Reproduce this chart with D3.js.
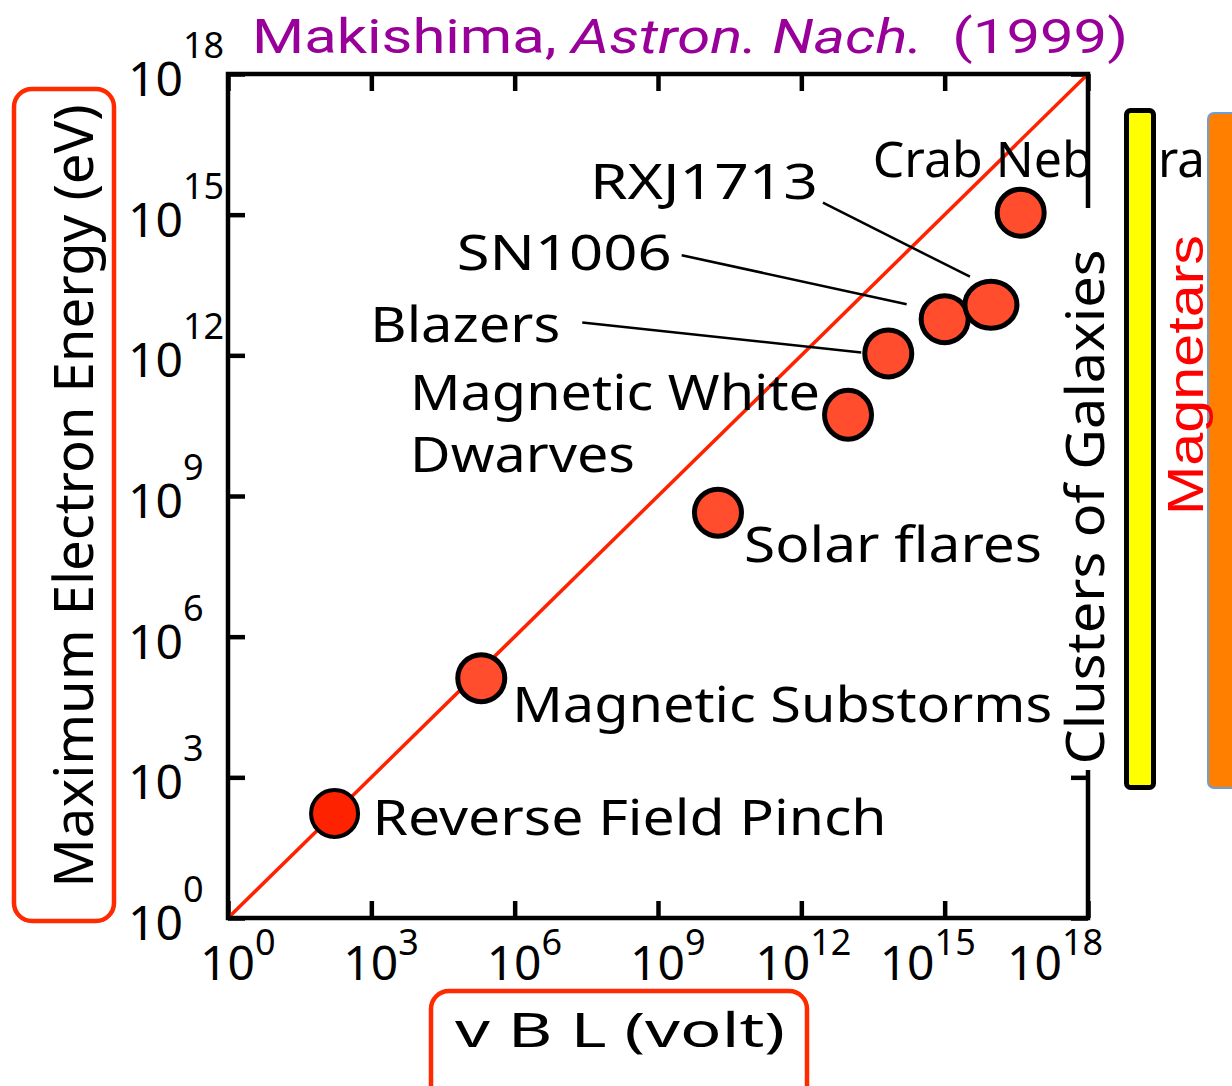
<!DOCTYPE html>
<html>
<head>
<meta charset="utf-8">
<script src="https://cdn.jsdelivr.net/npm/d3@7"></script>
<style>
  body { margin: 0; background: #fff; }
  svg { display: block; }
  text { font-family: "Noto Sans", "DejaVu Sans", sans-serif; }
</style>
</head>
<body>
<div id="chart"></div>
<script>
// sources and their (vBL, max electron energy)
const sources = ["Reverse Field Pinch", "Magnetic Substorms", "Solar flares", "Magnetic White Dwarves",
                 "Blazers", "SN1006", "RXJ1713", "Crab Nebura"];
const vBL  = [1.7e2, 2.0e5, 1.8e10, 9.5e12, 6.6e13, 1.0e15, 9.3e15, 3.9e16];
const eMax = [1.7e2, 1.3e5, 4.4e8, 5.4e10, 1.1e12, 5.9e12, 1.2e13, 1.1e15];
const tickExponents = [0, 3, 6, 9, 12, 15, 18];

const width = 1232, height = 1086;
const margin = {left: 228, right: 1088, top: 74, bottom: 918};

const svg = d3.select("#chart").append("svg")
    .attr("width", width)
    .attr("height", height);

var x = d3.scaleLog().domain([1, 1e18]).range([margin.left, margin.right]);
var y = d3.scaleLog().domain([1, 1e18]).range([margin.bottom, margin.top]);
var tickVals = tickExponents.map(function(e) { return Math.pow(10, e); });

// title
svg.append("text")
    .attr("x", 252).attr("y", 53)
    .attr("font-size", 48)
    .attr("fill", "#990099")
    .style("font-family", "Roboto, 'Noto Sans', sans-serif")
    .attr("textLength", 876)
    .attr("lengthAdjust", "spacingAndGlyphs")
    .call(t => {
        t.append("tspan").text("Makishima, ");
        t.append("tspan").attr("font-style", "italic").text("Astron. Nach.");
        t.append("tspan").text("\u00a0\u00a0(1999)");
    });

// inward ticks on all four sides
function tickAxis(axis, tx, ty) {
    svg.append("g")
        .attr("transform", "translate(" + tx + "," + ty + ")")
        .call(axis.tickValues(tickVals).tickSize(-17).tickSizeOuter(0).tickFormat(""))
        .call(g => g.select(".domain").remove())
        .selectAll("line").attr("stroke", "#000").attr("stroke-width", 4.5);
}
tickAxis(d3.axisBottom(x), 0, margin.bottom);
tickAxis(d3.axisTop(x), 0, margin.top);
tickAxis(d3.axisLeft(y), margin.left, 0);
tickAxis(d3.axisRight(y), margin.right, 0);

// diagonal E = vBL
svg.append("line")
    .attr("x1", x(1)).attr("y1", y(1))
    .attr("x2", x(1e18)).attr("y2", y(1e18))
    .attr("stroke", "#ff2200")
    .attr("stroke-width", 3.5);

// y tick labels
svg.append("g").selectAll("text")
    .data(tickExponents)
    .enter().append("text")
    .attr("x", 128)
    .attr("y", d => y(Math.pow(10, d)) + 22)
    .attr("fill", "#000")
    .each(function(d) {
        var t = d3.select(this);
        t.append("tspan").attr("font-size", 48).text("10");
        t.append("tspan").attr("font-size", 36).attr("dy", -38).text(d);
    });

// x tick labels (the wider ones were nudged left in the original)
var xNudge = {12: -18, 15: -37, 18: -53};
svg.append("g").selectAll("text")
    .data(tickExponents)
    .enter().append("text")
    .attr("x", d => x(Math.pow(10, d)) - 28 + (xNudge[d] || 0))
    .attr("y", 980)
    .attr("fill", "#000")
    .each(function(d) {
        var t = d3.select(this);
        t.append("tspan").attr("font-size", 48).text("10");
        t.append("tspan").attr("font-size", 36).attr("dy", -25).text(d);
    });

// axis titles in red rounded boxes
svg.append("rect")
    .attr("x", 14).attr("y", 89).attr("width", 100).attr("height", 832)
    .attr("rx", 18).attr("fill", "none")
    .attr("stroke", "#ff2a00").attr("stroke-width", 4.5);
svg.append("text")
    .attr("transform", "translate(93,496) rotate(-90)")
    .attr("text-anchor", "middle")
    .attr("font-size", 54)
    .attr("textLength", 783)
    .attr("lengthAdjust", "spacingAndGlyphs")
    .text("Maximum Electron Energy (eV)");

svg.append("rect")
    .attr("x", 431).attr("y", 991).attr("width", 376).attr("height", 120)
    .attr("rx", 18).attr("fill", "none")
    .attr("stroke", "#ff2a00").attr("stroke-width", 4.5);
svg.append("text")
    .attr("x", 455).attr("y", 1047)
    .attr("font-size", 48)
    .attr("textLength", 330)
    .attr("lengthAdjust", "spacingAndGlyphs")
    .text("v B L (volt)");

// label placement relative to each point (px)
var labelLayout = {
    "Reverse Field Pinch":    {dx: 38,   dy: 22,   w: [514]},
    "Magnetic Substorms":     {dx: 31,   dy: 44,   w: [540]},
    "Solar flares":           {dx: 26,   dy: 49,   w: [298]},
    "Magnetic White Dwarves": {dx: -438, dy: -5,   w: [410, 225], lines: ["Magnetic White", "Dwarves"]},
    "Blazers":                {dx: -518, dy: -11,  w: [190], lead: [-306, -31, -27, -1]},
    "SN1006":                 {dx: -488, dy: -49,  w: [215], lead: [-263, -64, -38, -15]},
    "RXJ1713":                {dx: -401, dy: -106, w: [228], lead: [-168, -102, -21, -28]},
    "Crab Nebura":            {dx: -148, dy: -36,  w: [220]}
};

var pts = sources.map(function(s, i) { return {name: s, px: x(vBL[i]), py: y(eMax[i])}; });

// leader lines
svg.append("g").selectAll("line")
    .data(pts.filter(d => labelLayout[d.name].lead))
    .enter().append("line")
    .attr("x1", d => d.px + labelLayout[d.name].lead[0])
    .attr("y1", d => d.py + labelLayout[d.name].lead[1])
    .attr("x2", d => d.px + labelLayout[d.name].lead[2])
    .attr("y2", d => d.py + labelLayout[d.name].lead[3])
    .attr("stroke", "#000")
    .attr("stroke-width", 2.5);

// points
svg.append("g").selectAll("ellipse")
    .data(pts)
    .enter().append("ellipse")
    .attr("cx", d => d.px)
    .attr("cy", d => d.py)
    .attr("rx", d => d.name === "RXJ1713" ? 26 : 23.5)
    .attr("ry", d => d.name === "Magnetic White Dwarves" ? 24.5 : 23.5)
    .attr("fill", d => d.name === "Reverse Field Pinch" ? "#ff2200" : "#ff4d2e")
    .attr("stroke", "#000")
    .attr("stroke-width", d => d.name === "Reverse Field Pinch" ? 4 : 5);

// labels
pts.forEach(function(d) {
    var L = labelLayout[d.name];
    if (d.name === "Crab Nebura") {
        var t = svg.append("text").attr("y", d.py + L.dy).attr("font-size", 50);
        t.append("tspan").attr("x", d.px + L.dx).attr("textLength", L.w[0])
            .attr("lengthAdjust", "spacingAndGlyphs").text("Crab Neb");
        t.append("tspan").attr("x", 1096).text("u");
        t.append("tspan").attr("x", 1158).attr("textLength", 47)
            .attr("lengthAdjust", "spacingAndGlyphs").text("ra");
        return;
    }
    var lines = L.lines || [d.name];
    lines.forEach(function(line, k) {
        svg.append("text")
            .attr("x", d.px + L.dx)
            .attr("y", d.py + L.dy + k * 62)
            .attr("font-size", 50)
            .attr("textLength", L.w[k])
            .attr("lengthAdjust", "spacingAndGlyphs")
            .text(line);
    });
});

// cover over part of the Crab label (gap before the yellow bar)
svg.append("rect")
    .attr("x", 1092).attr("y", 120).attr("width", 32).attr("height", 75)
    .attr("fill", "#fff");

// plot frame
svg.append("rect")
    .attr("x", margin.left).attr("y", margin.top)
    .attr("width", margin.right - margin.left)
    .attr("height", margin.bottom - margin.top)
    .attr("fill", "none")
    .attr("stroke", "#000")
    .attr("stroke-width", 4.5);

// Clusters of Galaxies label with white background hiding the right axis
svg.append("rect")
    .attr("x", 1056).attr("y", 208).attr("width", 64).attr("height", 562)
    .attr("fill", "#fff");
svg.append("text")
    .attr("transform", "translate(1104,507) rotate(-90)")
    .attr("text-anchor", "middle")
    .attr("font-size", 52)
    .attr("textLength", 515)
    .attr("lengthAdjust", "spacingAndGlyphs")
    .text("Clusters of Galaxies");

// yellow bar
svg.append("rect")
    .attr("x", 1126.5).attr("y", 110.5).attr("width", 27).attr("height", 677)
    .attr("rx", 4)
    .attr("fill", "#ffff00")
    .attr("stroke", "#000")
    .attr("stroke-width", 5);

// orange bar + Magnetars
svg.append("rect")
    .attr("x", 1208).attr("y", 113).attr("width", 40).attr("height", 675)
    .attr("rx", 6)
    .attr("fill", "#ff7f00")
    .attr("stroke", "#6d9ed6")
    .attr("stroke-width", 2);
svg.append("text")
    .attr("transform", "translate(1203,375) rotate(-90)")
    .attr("text-anchor", "middle")
    .attr("font-size", 50)
    .attr("fill", "#ff0000")
    .style("font-family", "'Liberation Sans Narrow', 'Liberation Sans', sans-serif")
    .attr("textLength", 280)
    .attr("lengthAdjust", "spacingAndGlyphs")
    .text("Magnetars");
</script>
</body>
</html>
